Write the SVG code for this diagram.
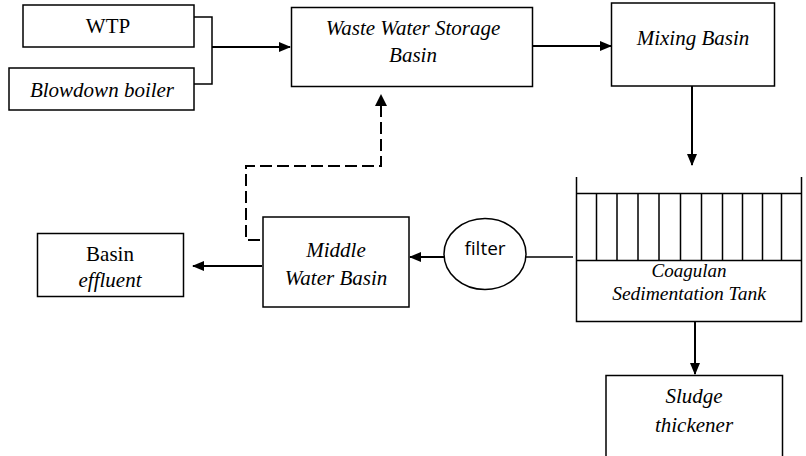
<svg xmlns="http://www.w3.org/2000/svg" width="806" height="456" viewBox="0 0 806 456">
<style>
.box{fill:#fff;stroke:#000;stroke-width:1.5}
.t{font-family:'Liberation Serif','DejaVu Serif',serif;font-size:21px;fill:#000;text-anchor:middle}
.i{font-style:italic}
.c{fill:none;stroke:#000;stroke-width:2}
.d{fill:none;stroke:#000;stroke-width:2;stroke-dasharray:12,5}
.ln{fill:none;stroke:#000;stroke-width:1.5}
</style>
<defs>
<marker id="ah" markerWidth="12" markerHeight="10" refX="11" refY="5" orient="auto" markerUnits="userSpaceOnUse">
<path d="M0,0 L12,5 L0,10 Z" fill="#000"/>
</marker>
</defs>
<g id="connectors">
<path class="ln" d="M194,17 H212 V84 H194"/>
<path class="c" d="M212,47 H290" marker-end="url(#ah)"/>
<path class="c" d="M533,46 H611" marker-end="url(#ah)"/>
<path class="c" d="M692,86 V165" marker-end="url(#ah)"/>
<path class="c" d="M695,322 V374" marker-end="url(#ah)"/>
<path class="ln" d="M526,257 H573"/>
<path class="c" d="M444,257 H410" marker-end="url(#ah)"/>
<path class="c" d="M262,266 H193" marker-end="url(#ah)"/>
<path class="d" d="M260,240 H246 V166 H381 V106"/>
<path d="M375,106 L381,94 L387,106 Z" fill="#000"/>
</g>
<g id="wtp">
<rect class="box" x="23" y="5" width="171" height="42"/>
<text class="t" x="108" y="33" font-family="Liberation Serif, serif">WTP</text>
</g>
<g id="blowdown">
<rect class="box" x="9" y="68" width="185" height="42"/>
<text class="t i" x="102" y="97">Blowdown boiler</text>
</g>
<g id="storage">
<rect class="box" x="291.5" y="7.5" width="241" height="79"/>
<text class="t i" x="413" y="35">Waste Water Storage</text>
<text class="t i" x="413" y="62">Basin</text>
</g>
<g id="mixing">
<rect class="box" x="611.5" y="3" width="163" height="83"/>
<text class="t i" x="693" y="45">Mixing Basin</text>
</g>
<g id="tank">
<path class="ln" d="M576.5,177 V321.5 H801.5 V177"/>
<path class="ln" d="M576.5,193.5 H801.5 M576.5,260.5 H801.5"/>
<path class="ln" d="M596.5,193.5 V260.5 M617,193.5 V260.5 M638,193.5 V260.5 M659,193.5 V260.5 M680.5,193.5 V260.5 M701.5,193.5 V260.5 M722.5,193.5 V260.5 M742.5,193.5 V260.5 M762.5,193.5 V260.5 M781.5,193.5 V260.5"/>
<text class="t i" x="689" y="277" style="font-size:19px">Coagulan</text>
<text class="t i" x="689" y="300" style="font-size:19.5px">Sedimentation Tank</text>
</g>
<g id="filter">
<ellipse cx="485" cy="254" rx="41" ry="35.5" fill="#fff" stroke="#000" stroke-width="1.5"/>
<text x="485" y="255" style="font-family:'Open Sans','Liberation Sans',sans-serif;font-size:19px;text-anchor:middle">filter</text>
</g>
<g id="middle">
<rect class="box" x="263" y="217" width="146" height="90"/>
<text class="t i" x="336" y="257">Middle</text>
<text class="t i" x="336" y="285">Water Basin</text>
</g>
<g id="effluent">
<rect class="box" x="37.5" y="233.5" width="146" height="63"/>
<text class="t" x="110" y="261">Basin</text>
<text class="t i" x="110" y="287">effluent</text>
</g>
<g id="sludge">
<rect class="box" x="606" y="375.5" width="176.5" height="90"/>
<text class="t i" x="694" y="403">Sludge</text>
<text class="t i" x="694" y="432">thickener</text>
</g>
</svg>
